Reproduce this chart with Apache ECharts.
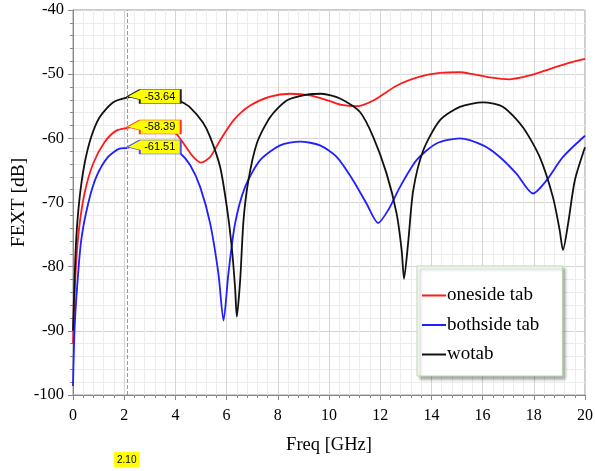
<!DOCTYPE html>
<html>
<head>
<meta charset="utf-8">
<script src="https://cdn.jsdelivr.net/npm/echarts@6/dist/echarts.min.js"></script>
<style>
  html, body { margin: 0; padding: 0; background: #fff; }
  #chart { width: 595px; height: 471px; }
</style>
</head>
<body>
<div id="chart"></div>
<script>
// FEXT vs frequency
const onesideFreq = [0, 0.1, 0.23, 0.45, 0.78, 1.23, 1.69, 2.1, 2.6, 3.1, 3.6, 4.03, 4.42, 4.7, 5.0, 5.36, 5.75, 6.27, 6.92, 7.7, 8.48, 9.26, 10.04, 10.5, 11.08, 11.73, 12.64, 13.55, 14.33, 15.11, 15.5, 16.28, 17.06, 17.84, 18.62, 19.4, 20]
const onesideFext = [-92, -81, -74.3, -68.6, -64, -60.6, -58.8, -58.39, -58.1, -58.2, -58.6, -59.3, -61.4, -62.9, -63.8, -62.9, -60.3, -57.2, -54.9, -53.5, -53.05, -53.3, -54.2, -54.8, -55.0, -54.1, -51.8, -50.4, -49.8, -49.7, -49.9, -50.5, -50.8, -50.2, -49.2, -48.2, -47.6]

const bothsideFreq = [0, 0.06, 0.16, 0.32, 0.59, 0.91, 1.37, 1.82, 2.1, 2.7, 3.3, 3.8, 4.16, 4.58, 4.97, 5.36, 5.68, 5.88, 6.07, 6.33, 6.72, 7.31, 8.09, 8.87, 9.65, 10.3, 10.95, 11.47, 11.92, 12.31, 12.77, 13.42, 14.2, 15.11, 16.02, 16.67, 17.32, 17.97, 18.49, 19.14, 20]
const bothsideFext = [-98.6, -89.9, -83.2, -75.9, -70.2, -66, -62.9, -61.6, -61.51, -61.0, -61.0, -61.5, -62.2, -64.2, -67.6, -73.3, -81.1, -88.4, -81.1, -73.3, -67.6, -63.4, -61.1, -60.5, -61.1, -62.9, -66.6, -70.2, -73.2, -71.2, -67.6, -63.4, -60.8, -60, -61.1, -62.9, -65.5, -68.6, -66.6, -62.9, -59.6]

const wotabFreq = [0, 0.06, 0.13, 0.26, 0.45, 0.71, 1.04, 1.56, 2.1, 2.7, 3.3, 3.9, 4.23, 4.58, 5.07, 5.36, 5.75, 6.01, 6.2, 6.33, 6.4, 6.53, 6.66, 6.85, 7.18, 7.7, 8.35, 9.13, 9.7, 10.43, 11.21, 11.73, 12.25, 12.64, 12.84, 12.93, 13.1, 13.29, 13.68, 14.33, 15.11, 16.02, 16.8, 17.58, 18.23, 18.75, 19.01, 19.14, 19.34, 19.6, 20]
const wotabFext = [-90, -82.1, -75.4, -69.2, -64, -59.8, -56.7, -54.4, -53.64, -53.35, -53.4, -53.8, -54.3, -55.2, -57.5, -59.8, -64.5, -70.7, -76.9, -83.2, -87.8, -82.1, -72.8, -66.6, -60.8, -56.7, -54.1, -53.2, -53.05, -53.8, -55.9, -59.8, -65.5, -71.7, -77.5, -81.9, -75.9, -68.1, -61.9, -57.2, -55.1, -54.4, -55.1, -58.3, -62.9, -69.2, -74.3, -77.4, -73.3, -66.6, -61.4]

// cursor at 2.10 GHz and the values it reads
const cursorFreq = 2.1
const cursorLabel = '2.10'
const cursorValues = { oneside: -58.39, bothside: -61.51, wotab: -53.64 }

const zip = (xs, ys) => xs.map((x, i) => [x, ys[i]])

const serif = 'Liberation Serif'
const callout = 'path://M0,7 L13,0 L54,0 L54,14 L13,14 L13,10 Z'

function marker (value, border) {
  return {
    symbol: callout,
    symbolSize: [54, 14],
    symbolOffset: [27, -1],
    silent: true,
    itemStyle: { color: '#ffff00', borderColor: border, borderWidth: 1 },
    label: {
      show: true,
      position: 'inside',
      offset: [6, 0],
      color: '#000',
      fontSize: 11,
      fontFamily: 'Liberation Sans',
      formatter: value.toFixed(2)
    },
    data: [{ coord: [cursorFreq, value] }]
  }
}

const axisCommon = {
  type: 'value',
  nameLocation: 'middle',
  nameMoveOverlap: false,
  axisLine: { show: true, lineStyle: { color: '#888' } },
  axisTick: { show: true, length: 5, lineStyle: { color: '#888' } },
  minorTick: { show: true, splitNumber: 5, length: 3, lineStyle: { color: '#888' } },
  splitLine: { show: true, lineStyle: { color: '#d4d4d4' } },
  minorSplitLine: { show: true, lineStyle: { color: '#ececec' } }
}

let chart = echarts.init(document.getElementById('chart'))
chart.setOption({
  animation: false,
  textStyle: { fontFamily: serif },
  grid: {
    left: 73,
    right: 10,
    top: 10,
    bottom: 76,
    outerBoundsMode: 'none',
    containLabel: false,
    show: true,
    borderColor: '#999',
    borderWidth: 1
  },
  legend: {
    orient: 'vertical',
    left: 417,
    top: 266,
    backgroundColor: '#fff',
    borderColor: '#b9d8a9',
    borderWidth: 1,
    shadowColor: 'rgba(0,0,0,0.35)',
    shadowBlur: 3,
    shadowOffsetX: 3,
    shadowOffsetY: 3,
    padding: [20, 23, 12, 5],
    itemGap: 10.5,
    itemWidth: 24,
    itemHeight: 2,
    icon: 'rect',
    textStyle: { fontFamily: serif, fontSize: 19, color: '#000', padding: [0, 0, 0, -4] },
    data: ['oneside tab', 'bothside tab', 'wotab']
  },
  xAxis: Object.assign({}, axisCommon, {
    min: 0,
    max: 20,
    interval: 2,
    name: 'Freq [GHz]',
    nameGap: 41,
    nameTextStyle: { fontFamily: serif, fontSize: 18.5, color: '#000' },
    axisLabel: { margin: 13, fontFamily: serif, fontSize: 16, color: '#000', formatter: v => String(v) }
  }),
  yAxis: Object.assign({}, axisCommon, {
    min: -100,
    max: -40,
    interval: 10,
    name: 'FEXT [dB]',
    nameGap: 44,
    nameTextStyle: { fontFamily: serif, fontSize: 19.5, color: '#000' },
    axisLabel: { margin: 9, fontFamily: serif, fontSize: 16.5, color: '#000', formatter: v => String(v) }
  }),
  series: [
    {
      name: 'oneside tab',
      type: 'line',
      data: zip(onesideFreq, onesideFext),
      showSymbol: false,
      symbol: 'none',
      smooth: 0.25,
      color: '#ff1a1a',
      lineStyle: { width: 1.8 },
      markPoint: marker(cursorValues.oneside, '#ff3030'),
      z: 3
    },
    {
      name: 'bothside tab',
      type: 'line',
      data: zip(bothsideFreq, bothsideFext),
      showSymbol: false,
      symbol: 'none',
      smooth: 0.25,
      color: '#1f1fff',
      lineStyle: { width: 1.8 },
      markPoint: marker(cursorValues.bothside, '#4a4aff'),
      z: 3
    },
    {
      name: 'wotab',
      type: 'line',
      data: zip(wotabFreq, wotabFext),
      showSymbol: false,
      symbol: 'none',
      smooth: 0.25,
      color: '#111',
      lineStyle: { width: 1.8 },
      markPoint: marker(cursorValues.wotab, '#222'),
      markLine: {
        silent: true,
        symbol: 'none',
        lineStyle: { type: 'dashed', color: '#999', width: 1 },
        label: {
          show: true,
          position: 'start',
          distance: 57,
          formatter: cursorLabel,
          backgroundColor: '#ffff00',
          color: '#000',
          fontSize: 10,
          fontFamily: 'Liberation Sans',
          padding: [3, 3, 2, 3]
        },
        data: [{ xAxis: cursorFreq }]
      },
      z: 3
    }
  ]
})
</script>
</body>
</html>
